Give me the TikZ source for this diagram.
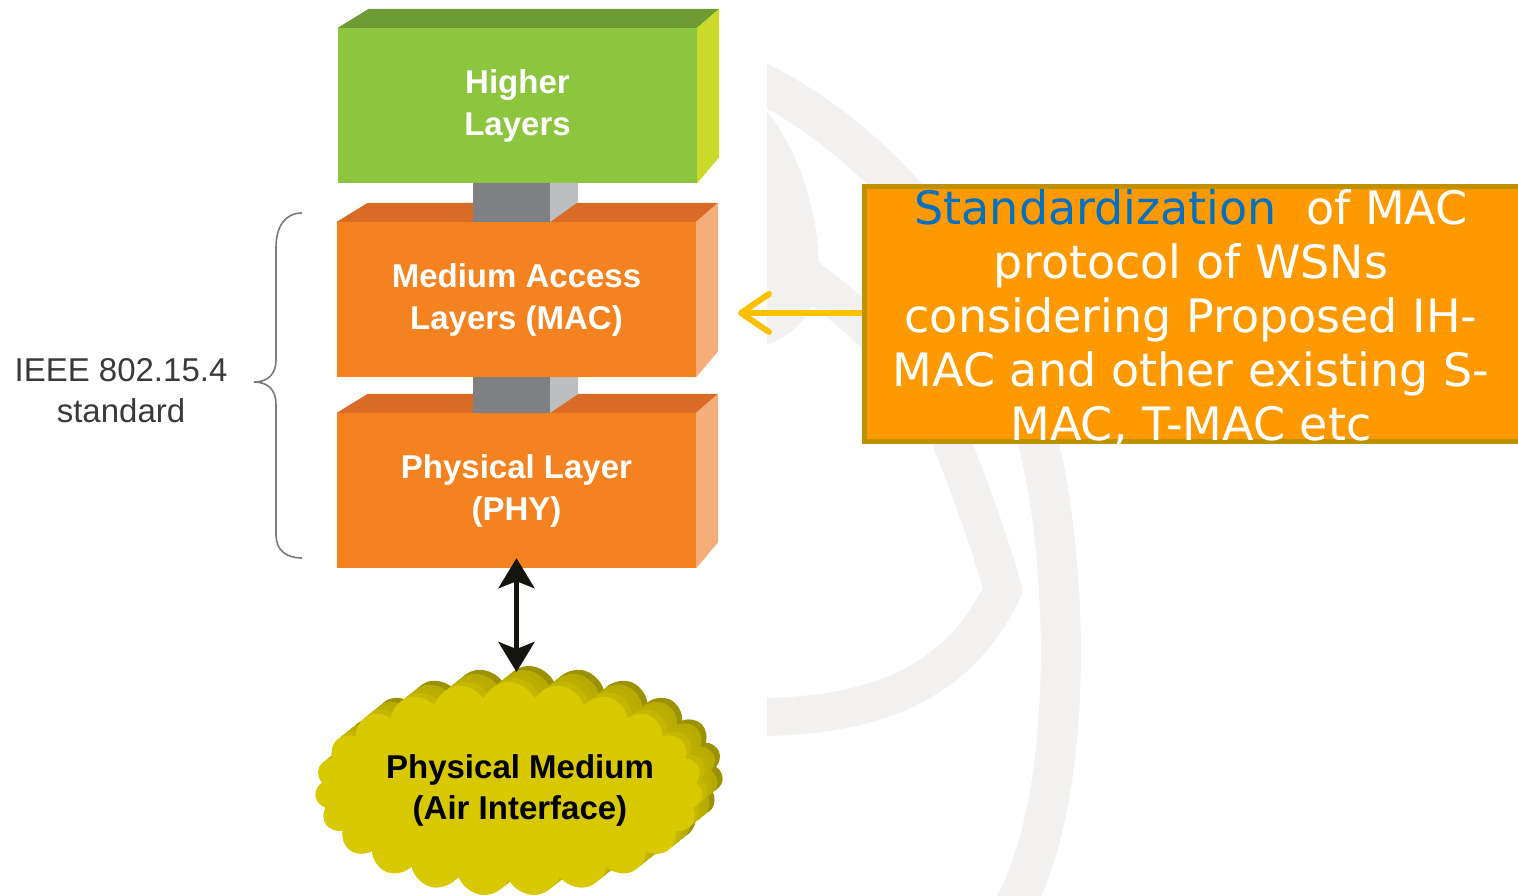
\documentclass[tikz,border=0pt]{standalone}
\usepackage{fontspec}
\newfontfamily\labelfont{Liberation Sans}
\newfontfamily\notefont{DejaVu Sans}
\usetikzlibrary{arrows.meta,shapes.symbols}

\definecolor{hlfront}{HTML}{8CC63F}
\definecolor{hltop}{HTML}{6D9C35}
\definecolor{hlside}{HTML}{C9DA2A}
\definecolor{orfront}{HTML}{F58220}
\definecolor{ortop}{HTML}{D96B27}
\definecolor{orside}{HTML}{F5AE79}
\definecolor{pgfront}{HTML}{7E8083}
\definecolor{pgside}{HTML}{BCBEC0}
\definecolor{notefill}{HTML}{FF9900}
\definecolor{noteedge}{HTML}{BF9000}
\definecolor{noteblue}{HTML}{0070C0}
\definecolor{notearrowc}{HTML}{FFC000}
\definecolor{airface}{HTML}{D8C800}
\definecolor{airside}{HTML}{B8AB00}
\definecolor{wmgray}{HTML}{F2F1F0}
\definecolor{bracegray}{HTML}{7A7A7A}
\definecolor{labeltext}{HTML}{3A3A3A}
\definecolor{linkblack}{HTML}{151510}

% top and right faces of a layer block drawn behind its front node
\newcommand\layerfaces[3]{%
  \fill[#2] (#1.north west) -- ++(31,-19) -- ([xshift=22pt,yshift=19pt]#1.north east)
     -- (#1.north east) -- cycle;
  \fill[#3] (#1.north east) -- ++(22,-19) -- ([xshift=22pt,yshift=26pt]#1.south east)
     -- (#1.south east) -- cycle;
}

\begin{document}
\begin{tikzpicture}[x=1pt,y=-1pt,
  layerfront/.style={rectangle, inner sep=0pt, minimum width=359pt, minimum height=155pt,
    align=center, text=white, font=\labelfont\bfseries\fontsize{33}{42}\selectfont},
  wmband/.style={draw=wmgray, line cap=butt, line join=round},
  notebox/.style={rectangle, fill=notefill, draw=noteedge, line width=5pt,
    minimum width=656pt, minimum height=254pt, inner sep=0pt},
  notetext/.style={align=center, text=white, inner sep=0pt,
    font=\notefont\fontsize{46}{54}\selectfont},
  notearrow/.style={draw=notearrowc, line width=6pt,
    -{Straight Barb[length=28pt,width=38pt,round]}},
  linkarrow/.style={draw=linkblack, line width=5pt,
    {Stealth[length=30pt,width=36pt,inset=7pt]}-{Stealth[length=30pt,width=36pt,inset=7pt]}},
  airshape/.style={cloud, cloud puffs=23, cloud puff arc=135, aspect=1.75,
    minimum width=388pt, minimum height=214pt, inner sep=0pt},
  airtext/.style={align=center, text=black, inner sep=0pt,
    font=\labelfont\bfseries\fontsize{33}{41}\selectfont},
  stdlabel/.style={align=center, text=labeltext, inner sep=0pt,
    font=\labelfont\fontsize{33}{41}\selectfont},
  bracestyle/.style={draw=bracegray, line width=1.6pt},
]
\useasboundingbox (0,0) rectangle (1518,896);
\fill[white] (0,0) rectangle (1518,896);

% faint logo swooshes in the background
\begin{scope}
  \clip (767,0) rectangle (1518,896);
  \draw[wmband, line width=40pt] (755,80) .. controls (880,140) and (1000,280) .. (1040,450)
     .. controls (1068,569) and (1075,790) .. (1015,905);
  \draw[wmband, line width=38pt] (790,265) .. controls (840,300) and (925,370) .. (951,440)
     .. controls (975,500) and (995,560) .. (1003,590)
     .. controls (960,680) and (880,717) .. (755,717);
  \fill[wmgray] (767,112) .. controls (800,150) and (825,230) .. (817,285)
     .. controls (812,320) and (790,336) .. (767,345) -- cycle;
\end{scope}

% protocol stack
\node[layerfront] (higher) at (517.5,105.5) {};
\layerfaces{higher}{hltop}{hlside}
\node[layerfront, fill=hlfront] at (higher) {Higher\\Layers};

\node[layerfront] (mac) at (516.5,299.5) {};
\layerfaces{mac}{ortop}{orside}
\node[layerfront, fill=orfront] at (mac) {Medium Access\\Layers (MAC)};

\node[layerfront] (phy) at (516.5,490.5) {};
\layerfaces{phy}{ortop}{orside}
\node[layerfront, fill=orfront] at (phy) {Physical Layer\\(PHY)};

% posts between the blocks
\fill[pgfront] (473,183) rectangle (550,222);
\fill[pgside] (550,183) -- (578,183) -- (578,202) -- (550,222) -- cycle;
\fill[pgfront] (473,377) rectangle (550,413);
\fill[pgside] (550,377) -- (578,377) -- (578,394) -- (550,413) -- cycle;

% brace and its label
\draw[bracestyle] (302,213) .. controls (286,213) and (276,225) .. (276,248) -- (276,360)
   .. controls (276,374) and (268,382) .. (254,382)
   .. controls (268,382) and (276,390) .. (276,404) -- (276,535)
   .. controls (276,550) and (286,558) .. (302,558);
\node[stdlabel] (ieee) at (121,391) {IEEE 802.15.4\\standard};

% physical medium cloud, stacked copies give it depth
\foreach \d/\c in {20/airside!85!black, 15/airside, 10/airside!90!airface, 5/airside!60!airface}{
  \node[airshape, fill=\c] at (509+\d,789-0.8*\d) {};
}
\node[airshape, fill=airface] (medium) at (509,789) {};
\node[airtext] (airlabel) at (520,790) {Physical Medium\\(Air Interface)};

\coordinate (airtop) at (516.5,672);
\draw[linkarrow] (airtop) -- ([yshift=10pt]phy.south);

% annotation box
\begin{scope}
  \clip (0,0) rectangle (1518,896);
  \node[notebox] (note) at (1192,314) {};
\end{scope}
\node[notetext] (notetxt) at (1191,318)
  {\textcolor{noteblue}{Standardization}\ \ of MAC\\protocol of WSNs\\considering Proposed IH-\\MAC and other existing S-\\MAC, T-MAC etc};
\coordinate (macside) at (738,313);
\draw[notearrow] (note.west |- macside) -- (macside);
\end{tikzpicture}
\end{document}
